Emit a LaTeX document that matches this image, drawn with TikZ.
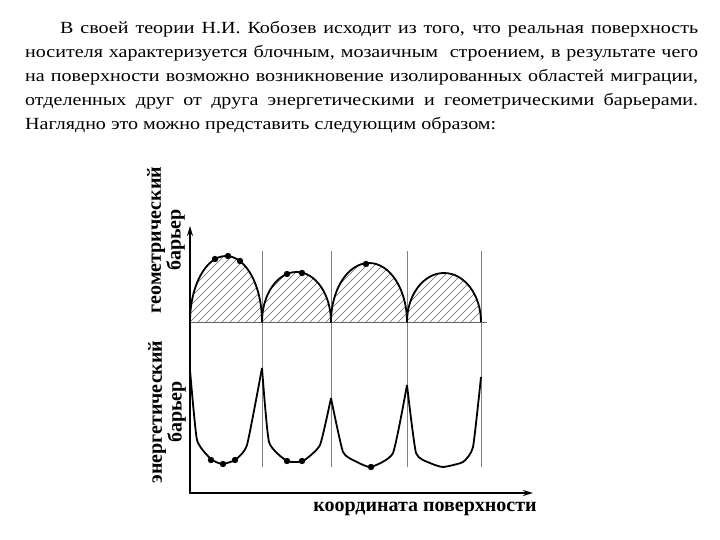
\documentclass[tikz,border=0pt]{standalone}
\usepackage{fontspec}
\setmainfont{Liberation Serif}
\newfontfamily\paraface[FakeStretch=1.18]{Liberation Serif}
\usetikzlibrary{arrows.meta}

\begin{document}
\begin{tikzpicture}[
  x=1pt,y=1pt,
  axis/.style={line width=1.6pt,{Stealth[length=10pt,width=6pt]}-{Stealth[length=10pt,width=6pt]}},
  curve/.style={line width=1.8pt,line join=round},
  border/.style={black!50,line width=1pt},
  ground/.style={black!60,line width=0.8pt},
  hatch/.style={black!60,line width=0.5pt},
  label/.style={font=\fontsize{20}{18}\selectfont\bfseries,align=center,inner sep=0pt},
  textline/.style={inner sep=0pt,anchor=base west,font=\paraface\fontsize{17}{24}\selectfont}
]
\useasboundingbox (0,0) rectangle (720,540);
\node[textline] (line1) at (25,506) {\makebox[673pt][s]{\hspace*{35pt}В своей теории Н.И. Кобозев исходит из того, что реальная поверхность}};
\node[textline] (line2) at (25,482) {\makebox[673pt][s]{носителя характеризуется блочным, мозаичным\ \ строением, в результате чего}};
\node[textline] (line3) at (25,458) {\makebox[673pt][s]{на поверхности возможно возникновение изолированных областей миграции,}};
\node[textline] (line4) at (25,434) {\makebox[673pt][s]{отделенных друг от друга энергетическими и геометрическими барьерами.}};
\node[textline] (line5) at (25,410) {Наглядно это можно представить следующим образом:};
\node[label,rotate=90] (geolabel) at (166,300) {геометрический\\барьер};
\node[label,rotate=90] (enlabel) at (167,128) {энергетический\\барьер};
\node[label,anchor=base] (xlabel) at (425,28) {координата поверхности};
\coordinate (origin) at (190,47);
\coordinate (ytip) at (190,314);
\coordinate (xtip) at (533,47);
\foreach \x in {262,331,407,481}
  \draw[border] (\x,289) -- (\x,73);
\draw[ground] (190,218) -- (487,218);
\draw[curve,path picture={
    \foreach \k in {0,...,45}
      \draw[hatch] (110+8*\k,218) -- ++(90,90);
  }] (190,218) arc[start angle=180,end angle=0,x radius=36pt,y radius=66pt]
  arc[start angle=180,end angle=0,x radius=34.5pt,y radius=50pt]
  arc[start angle=180,end angle=0,x radius=38pt,y radius=59pt]
  arc[start angle=180,end angle=0,x radius=37pt,y radius=49pt];
\draw[curve] plot[smooth,tension=0.3] coordinates {(190,170) (197,100) (211,81) (222,76) (235,80) (247,95) (262,172)};
\draw[curve] plot[smooth,tension=0.3] coordinates {(262,172) (269,98) (287,79) (303,79) (320,95) (331,142)};
\draw[curve] plot[smooth,tension=0.3] coordinates {(331,142) (343,88) (357,78) (371,73) (393,87) (407,155)};
\draw[curve] plot[smooth,tension=0.3] coordinates {(407,155) (416,87) (430,77) (443,73) (463,78) (473,93) (481,163)};
\foreach \p in {(215,281),(228,284),(240,279),(287,266),(302,267),(366,276),
                (211,80),(223,76),(235,80),(287,79),(302,79),(371,73)}
  \fill \p circle (3.2pt);
\draw[axis] (ytip) |- (xtip);
\end{tikzpicture}
\end{document}
